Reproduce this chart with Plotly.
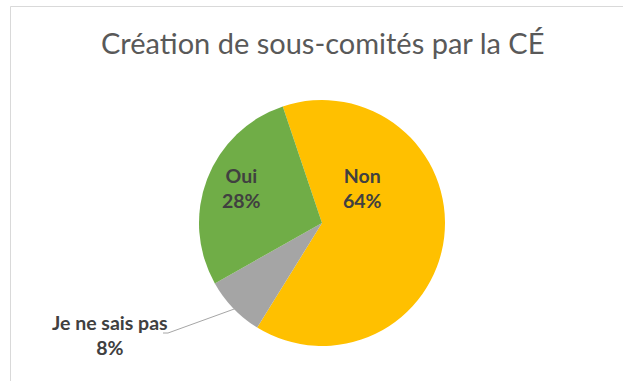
import plotly.graph_objects as go

# Survey answers, in drawing order (clockwise)
labels = ["Non", "Je ne sais pas", "Oui"]
values = [64, 8, 28]
colors = ["#FFC000", "#A5A5A5", "#70AD47"]

W, H = 623, 381
title_text = "Création de sous-comités par la CÉ"


def px_x(x):
    return x / W


def px_y(y):
    return 1 - y / H


# pie centre and radius in pixels
cx, cy, r = 322, 223, 123

fig = go.Figure(
    go.Pie(
        labels=labels,
        values=values,
        marker=dict(colors=colors, line=dict(color="white", width=0)),
        sort=False,
        direction="clockwise",
        rotation=-18.6,
        textinfo="none",
        hoverinfo="label+percent",
        showlegend=False,
        domain=dict(x=[px_x(cx - r), px_x(cx + r)], y=[px_y(cy + r), px_y(cy - r)]),
    )
)

# label anchor positions (pixels) for each slice
label_pos = {"Non": (362, 188), "Oui": (241, 188), "Je ne sais pas": (110, 335)}

annotations = [
    dict(
        x=px_x(322), y=px_y(42), xref="paper", yref="paper",
        text=title_text, showarrow=False,
        font=dict(family="Lato", size=29, color="#595959"),
        xanchor="center", yanchor="middle",
    )
]
for lab, val in zip(labels, values):
    x, y = label_pos[lab]
    annotations.append(
        dict(
            x=px_x(x), y=px_y(y), xref="paper", yref="paper",
            text=f"<b>{lab}</b><br><b>{val}%</b>", showarrow=False,
            font=dict(family="Lato", size=19.5, color="#404040"),
            xanchor="center", yanchor="middle", align="center",
        )
    )

shapes = [
    # chart area border (left and top edges)
    dict(type="line", xref="paper", yref="paper",
         x0=px_x(10.5), x1=1.0, y0=px_y(6.5), y1=px_y(6.5),
         line=dict(color="#D9D9D9", width=1)),
    dict(type="line", xref="paper", yref="paper",
         x0=px_x(10.5), x1=px_x(10.5), y0=px_y(6.5), y1=0,
         line=dict(color="#D9D9D9", width=1)),
    # leader line for the small slice
    dict(type="path", xref="paper", yref="paper",
         path=f"M {px_x(237)} {px_y(308)} L {px_x(168)} {px_y(333)} L {px_x(163)} {px_y(333)}",
         line=dict(color="#A6A6A6", width=1)),
]

fig.update_layout(
    width=W, height=H,
    margin=dict(l=0, r=0, t=0, b=0),
    paper_bgcolor="white", plot_bgcolor="white",
    annotations=annotations,
    shapes=shapes,
)

fig.write_html("out.html")
